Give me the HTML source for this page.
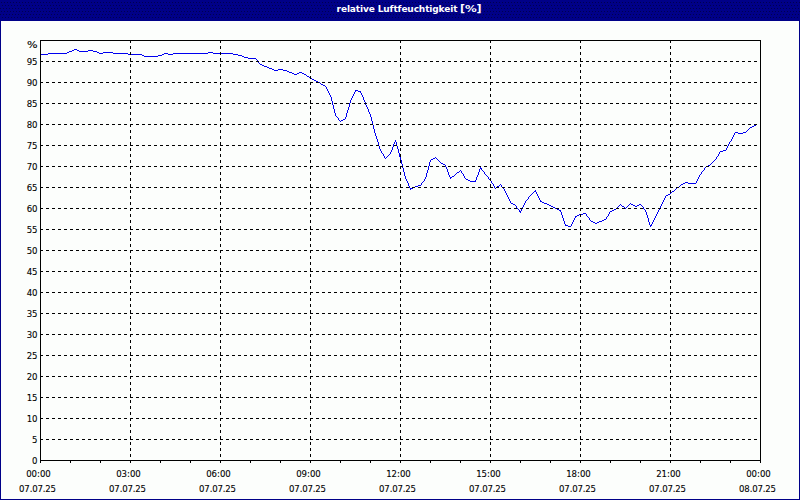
<!DOCTYPE html>
<html><head><meta charset="utf-8"><title>relative Luftfeuchtigkeit</title>
<style>
html,body{margin:0;padding:0;}
body{width:800px;height:500px;overflow:hidden;background:#000088;position:relative;}
#panel{position:absolute;left:1px;top:21px;width:798px;height:478px;background:#fcfefc;}
#title{position:absolute;left:0;top:0;width:800px;height:21px;color:#fff;font:bold 9px "DejaVu Sans","Liberation Sans",sans-serif;}
#title span{position:absolute;left:336.6px;top:4px;white-space:nowrap;}
#t1{letter-spacing:-0.12px;}
#title #t2{left:460px;top:2px;font-size:11px;font-weight:bold;}
#title #t4{left:476.5px;top:2px;font-size:11px;font-weight:bold;}
#title #t3{left:465px;top:4px;transform:scaleX(1.3);transform-origin:0 0;}
svg{position:absolute;left:0;top:0;}
.lab{font-family:"DejaVu Sans Condensed","Liberation Sans",sans-serif;font-size:9.5px;fill:#000;stroke:#000;stroke-width:0.1px;}
</style></head>
<body>
<div id="panel"></div>
<svg width="800" height="500" viewBox="0 0 800 500">
<g shape-rendering="crispEdges" fill="none" stroke="#000050" stroke-dasharray="1 2">
<path d="M1 2.5H800"/><path d="M2 5.5H800"/><path d="M0 8.5H800"/><path d="M1 11.5H800"/><path d="M0 14.5H800"/><path d="M2 17.5H800"/>
</g>
<g shape-rendering="crispEdges" fill="none">
<path d="M40 54h1v1h-1zM41 54h1v1h-1zM42 54h1v1h-1zM43 54h1v1h-1zM44 54h1v1h-1zM45 54h1v1h-1zM46 54h1v1h-1zM47 54h1v1h-1zM48 53h1v1h-1zM49 53h1v1h-1zM50 53h1v1h-1zM51 53h1v1h-1zM52 53h1v1h-1zM53 53h1v1h-1zM54 53h1v1h-1zM55 53h1v1h-1zM56 53h1v1h-1zM57 53h1v1h-1zM58 53h1v1h-1zM59 53h1v1h-1zM60 53h1v1h-1zM61 53h1v1h-1zM62 53h1v1h-1zM63 53h1v1h-1zM64 53h1v1h-1zM65 53h1v1h-1zM66 53h1v1h-1zM67 52h1v1h-1zM68 52h1v1h-1zM69 51h1v1h-1zM70 51h1v1h-1zM71 51h1v1h-1zM72 50h1v1h-1zM73 50h1v1h-1zM74 49h1v1h-1zM75 49h1v1h-1zM76 49h1v1h-1zM77 50h1v1h-1zM78 50h1v1h-1zM79 51h1v1h-1zM80 51h1v1h-1zM81 51h1v1h-1zM82 51h1v1h-1zM83 51h1v1h-1zM84 51h1v1h-1zM85 51h1v1h-1zM86 51h1v1h-1zM87 51h1v1h-1zM88 50h1v1h-1zM89 50h1v1h-1zM90 50h1v1h-1zM91 50h1v1h-1zM92 50h1v1h-1zM93 51h1v1h-1zM94 51h1v1h-1zM95 51h1v1h-1zM96 51h1v1h-1zM97 52h1v1h-1zM98 52h1v1h-1zM99 53h1v1h-1zM100 53h1v1h-1zM101 53h1v1h-1zM102 53h1v1h-1zM103 52h1v1h-1zM104 52h1v1h-1zM105 52h1v1h-1zM106 52h1v1h-1zM107 52h1v1h-1zM108 52h1v1h-1zM109 52h1v1h-1zM110 52h1v1h-1zM111 52h1v1h-1zM112 52h1v1h-1zM113 53h1v1h-1zM114 53h1v1h-1zM115 53h1v1h-1zM116 53h1v1h-1zM117 53h1v1h-1zM118 53h1v1h-1zM119 53h1v1h-1zM120 53h1v1h-1zM121 53h1v1h-1zM122 53h1v1h-1zM123 53h1v1h-1zM124 53h1v1h-1zM125 53h1v1h-1zM126 53h1v1h-1zM127 53h1v1h-1zM128 54h1v1h-1zM129 54h1v1h-1zM130 54h1v1h-1zM131 54h1v1h-1zM132 54h1v1h-1zM133 54h1v1h-1zM134 54h1v1h-1zM135 54h1v1h-1zM136 54h1v1h-1zM137 54h1v1h-1zM138 54h1v1h-1zM139 54h1v1h-1zM140 54h1v1h-1zM141 54h1v1h-1zM142 55h1v1h-1zM143 55h1v1h-1zM144 56h1v1h-1zM145 56h1v1h-1zM146 56h1v1h-1zM147 56h1v1h-1zM148 56h1v1h-1zM149 56h1v1h-1zM150 56h1v1h-1zM151 56h1v1h-1zM152 56h1v1h-1zM153 56h1v1h-1zM154 56h1v1h-1zM155 56h1v1h-1zM156 56h1v1h-1zM157 56h1v1h-1zM158 55h1v1h-1zM159 55h1v1h-1zM160 55h1v1h-1zM161 55h1v1h-1zM162 54h1v1h-1zM163 54h1v1h-1zM164 53h1v1h-1zM165 53h1v1h-1zM166 53h1v1h-1zM167 53h1v1h-1zM168 54h1v1h-1zM169 54h1v1h-1zM170 54h1v1h-1zM171 54h1v1h-1zM172 54h1v1h-1zM173 53h1v1h-1zM174 53h1v1h-1zM175 53h1v1h-1zM176 53h1v1h-1zM177 53h1v1h-1zM178 53h1v1h-1zM179 53h1v1h-1zM180 53h1v1h-1zM181 53h1v1h-1zM182 53h1v1h-1zM183 53h1v1h-1zM184 53h1v1h-1zM185 53h1v1h-1zM186 53h1v1h-1zM187 53h1v1h-1zM188 53h1v1h-1zM189 53h1v1h-1zM190 53h1v1h-1zM191 53h1v1h-1zM192 53h1v1h-1zM193 53h1v1h-1zM194 53h1v1h-1zM195 53h1v1h-1zM196 53h1v1h-1zM197 53h1v1h-1zM198 53h1v1h-1zM199 53h1v1h-1zM200 53h1v1h-1zM201 53h1v1h-1zM202 53h1v1h-1zM203 53h1v1h-1zM204 53h1v1h-1zM205 53h1v1h-1zM206 53h1v1h-1zM207 53h1v1h-1zM208 52h1v1h-1zM209 52h1v1h-1zM210 52h1v1h-1zM211 52h1v1h-1zM212 52h1v1h-1zM213 53h1v1h-1zM214 53h1v1h-1zM215 53h1v1h-1zM216 53h1v1h-1zM217 53h1v1h-1zM218 53h1v1h-1zM219 53h1v1h-1zM220 53h1v1h-1zM221 53h1v1h-1zM222 53h1v1h-1zM223 53h1v1h-1zM224 53h1v1h-1zM225 53h1v1h-1zM226 53h1v1h-1zM227 53h1v1h-1zM228 53h1v1h-1zM229 53h1v1h-1zM230 53h1v1h-1zM231 53h1v1h-1zM232 53h1v1h-1zM233 54h1v1h-1zM234 54h1v1h-1zM235 54h1v1h-1zM236 54h1v1h-1zM237 54h1v1h-1zM238 55h1v1h-1zM239 55h1v1h-1zM240 55h1v1h-1zM241 55h1v1h-1zM242 56h1v1h-1zM243 56h1v1h-1zM244 57h1v1h-1zM245 57h1v1h-1zM246 57h1v1h-1zM247 57h1v1h-1zM248 58h1v1h-1zM249 58h1v1h-1zM250 58h1v1h-1zM251 58h1v1h-1zM252 58h1v1h-1zM253 58h1v1h-1zM254 58h1v1h-1zM255 58h1v1h-1zM256 59h1v1h-1zM257 60h1v1h-1zM258 61h1v2h-1zM259 63h1v1h-1zM260 64h1v1h-1zM261 64h1v1h-1zM262 65h1v1h-1zM263 65h1v1h-1zM264 66h1v1h-1zM265 66h1v1h-1zM266 66h1v1h-1zM267 67h1v1h-1zM268 67h1v1h-1zM269 68h1v1h-1zM270 68h1v1h-1zM271 68h1v1h-1zM272 69h1v1h-1zM273 69h1v1h-1zM274 70h1v1h-1zM275 70h1v1h-1zM276 70h1v1h-1zM277 70h1v1h-1zM278 69h1v1h-1zM279 69h1v1h-1zM280 69h1v1h-1zM281 69h1v1h-1zM282 69h1v1h-1zM283 70h1v1h-1zM284 70h1v1h-1zM285 70h1v1h-1zM286 70h1v1h-1zM287 71h1v1h-1zM288 71h1v1h-1zM289 72h1v1h-1zM290 72h1v1h-1zM291 72h1v1h-1zM292 73h1v1h-1zM293 73h1v1h-1zM294 74h1v1h-1zM295 74h1v1h-1zM296 74h1v1h-1zM297 73h1v1h-1zM298 73h1v1h-1zM299 72h1v1h-1zM300 72h1v1h-1zM301 72h1v1h-1zM302 73h1v1h-1zM303 73h1v1h-1zM304 74h1v1h-1zM305 74h1v1h-1zM306 75h1v1h-1zM307 76h1v1h-1zM308 76h1v1h-1zM309 77h1v1h-1zM310 78h1v1h-1zM311 78h1v1h-1zM312 79h1v1h-1zM313 79h1v1h-1zM314 80h1v1h-1zM315 80h1v1h-1zM316 81h1v1h-1zM317 81h1v1h-1zM318 82h1v1h-1zM319 82h1v1h-1zM320 83h1v1h-1zM321 84h1v1h-1zM322 84h1v1h-1zM323 85h1v1h-1zM324 85h1v1h-1zM325 86h1v1h-1zM326 87h1v2h-1zM327 89h1v2h-1zM328 91h1v2h-1zM329 93h1v2h-1zM330 95h1v2h-1zM331 97h1v4h-1zM332 101h1v4h-1zM333 105h1v4h-1zM334 109h1v4h-1zM335 113h1v3h-1zM336 116h1v1h-1zM337 117h1v1h-1zM338 118h1v2h-1zM339 120h1v1h-1zM340 121h1v1h-1zM341 120h1v1h-1zM342 120h1v1h-1zM343 119h1v1h-1zM344 119h1v1h-1zM345 117h1v2h-1zM346 113h1v4h-1zM347 110h1v3h-1zM348 107h1v3h-1zM349 103h1v4h-1zM350 100h1v3h-1zM351 98h1v2h-1zM352 96h1v2h-1zM353 94h1v2h-1zM354 92h1v2h-1zM355 90h1v2h-1zM356 90h1v1h-1zM357 90h1v1h-1zM358 91h1v1h-1zM359 91h1v1h-1zM360 91h1v2h-1zM361 93h1v2h-1zM362 95h1v2h-1zM363 97h1v3h-1zM364 100h1v2h-1zM365 102h1v3h-1zM366 105h1v2h-1zM367 107h1v2h-1zM368 109h1v3h-1zM369 112h1v2h-1zM370 114h1v3h-1zM371 117h1v4h-1zM372 121h1v4h-1zM373 125h1v4h-1zM374 129h1v4h-1zM375 133h1v3h-1zM376 136h1v3h-1zM377 139h1v3h-1zM378 142h1v4h-1zM379 146h1v3h-1zM380 149h1v2h-1zM381 151h1v2h-1zM382 153h1v1h-1zM383 154h1v2h-1zM384 156h1v2h-1zM385 158h1v1h-1zM386 157h1v1h-1zM387 156h1v1h-1zM388 155h1v1h-1zM389 154h1v1h-1zM390 152h1v2h-1zM391 150h1v2h-1zM392 147h1v3h-1zM393 144h1v3h-1zM394 142h1v2h-1zM395 140h1v2h-1zM396 142h1v4h-1zM397 146h1v3h-1zM398 149h1v4h-1zM399 153h1v4h-1zM400 157h1v3h-1zM401 160h1v4h-1zM402 164h1v4h-1zM403 168h1v4h-1zM404 172h1v4h-1zM405 176h1v3h-1zM406 179h1v2h-1zM407 181h1v2h-1zM408 183h1v3h-1zM409 186h1v2h-1zM410 188h1v2h-1zM411 188h1v1h-1zM412 188h1v1h-1zM413 187h1v1h-1zM414 187h1v1h-1zM415 186h1v1h-1zM416 186h1v1h-1zM417 186h1v1h-1zM418 185h1v1h-1zM419 185h1v1h-1zM420 185h1v1h-1zM421 183h1v2h-1zM422 182h1v1h-1zM423 181h1v1h-1zM424 179h1v2h-1zM425 177h1v2h-1zM426 173h1v4h-1zM427 170h1v3h-1zM428 166h1v4h-1zM429 162h1v4h-1zM430 160h1v2h-1zM431 159h1v1h-1zM432 159h1v1h-1zM433 158h1v1h-1zM434 158h1v1h-1zM435 157h1v1h-1zM436 158h1v1h-1zM437 159h1v1h-1zM438 160h1v1h-1zM439 161h1v1h-1zM440 162h1v1h-1zM441 163h1v1h-1zM442 163h1v1h-1zM443 164h1v1h-1zM444 164h1v1h-1zM445 165h1v2h-1zM446 167h1v2h-1zM447 169h1v3h-1zM448 172h1v3h-1zM449 175h1v2h-1zM450 177h1v2h-1zM451 177h1v1h-1zM452 176h1v1h-1zM453 176h1v1h-1zM454 175h1v1h-1zM455 174h1v1h-1zM456 173h1v1h-1zM457 172h1v1h-1zM458 172h1v1h-1zM459 171h1v1h-1zM460 170h1v1h-1zM461 171h1v2h-1zM462 173h1v1h-1zM463 174h1v2h-1zM464 176h1v2h-1zM465 178h1v1h-1zM466 179h1v1h-1zM467 179h1v1h-1zM468 180h1v1h-1zM469 180h1v1h-1zM470 181h1v1h-1zM471 181h1v1h-1zM472 181h1v1h-1zM473 181h1v1h-1zM474 181h1v1h-1zM475 180h1v2h-1zM476 177h1v3h-1zM477 175h1v2h-1zM478 172h1v3h-1zM479 169h1v3h-1zM480 167h1v2h-1zM481 168h1v2h-1zM482 170h1v1h-1zM483 171h1v1h-1zM484 172h1v2h-1zM485 174h1v1h-1zM486 175h1v1h-1zM487 176h1v1h-1zM488 177h1v2h-1zM489 179h1v1h-1zM490 180h1v1h-1zM491 181h1v2h-1zM492 183h1v1h-1zM493 184h1v2h-1zM494 186h1v2h-1zM495 188h1v1h-1zM496 187h1v1h-1zM497 186h1v1h-1zM498 186h1v1h-1zM499 185h1v1h-1zM500 184h1v1h-1zM501 185h1v2h-1zM502 187h1v1h-1zM503 188h1v1h-1zM504 189h1v2h-1zM505 191h1v2h-1zM506 193h1v2h-1zM507 195h1v2h-1zM508 197h1v2h-1zM509 199h1v2h-1zM510 201h1v2h-1zM511 203h1v1h-1zM512 203h1v1h-1zM513 204h1v1h-1zM514 204h1v1h-1zM515 205h1v1h-1zM516 206h1v2h-1zM517 208h1v1h-1zM518 209h1v1h-1zM519 210h1v2h-1zM520 211h1v2h-1zM521 209h1v2h-1zM522 207h1v2h-1zM523 205h1v2h-1zM524 203h1v2h-1zM525 201h1v2h-1zM526 200h1v1h-1zM527 199h1v1h-1zM528 197h1v2h-1zM529 196h1v1h-1zM530 195h1v1h-1zM531 194h1v1h-1zM532 193h1v1h-1zM533 192h1v1h-1zM534 191h1v1h-1zM535 190h1v2h-1zM536 192h1v2h-1zM537 194h1v2h-1zM538 196h1v2h-1zM539 198h1v2h-1zM540 200h1v2h-1zM541 201h1v1h-1zM542 202h1v1h-1zM543 202h1v1h-1zM544 203h1v1h-1zM545 203h1v1h-1zM546 203h1v1h-1zM547 204h1v1h-1zM548 204h1v1h-1zM549 205h1v1h-1zM550 205h1v1h-1zM551 206h1v1h-1zM552 206h1v1h-1zM553 207h1v1h-1zM554 207h1v1h-1zM555 208h1v1h-1zM556 208h1v1h-1zM557 209h1v1h-1zM558 209h1v1h-1zM559 210h1v1h-1zM560 210h1v2h-1zM561 212h1v3h-1zM562 215h1v3h-1zM563 218h1v3h-1zM564 221h1v3h-1zM565 224h1v2h-1zM566 225h1v1h-1zM567 225h1v1h-1zM568 226h1v1h-1zM569 226h1v1h-1zM570 226h1v1h-1zM571 224h1v2h-1zM572 222h1v2h-1zM573 220h1v2h-1zM574 218h1v2h-1zM575 216h1v2h-1zM576 216h1v1h-1zM577 215h1v1h-1zM578 215h1v1h-1zM579 214h1v1h-1zM580 214h1v1h-1zM581 214h1v1h-1zM582 214h1v1h-1zM583 213h1v1h-1zM584 213h1v1h-1zM585 213h1v1h-1zM586 214h1v2h-1zM587 216h1v1h-1zM588 217h1v1h-1zM589 218h1v2h-1zM590 220h1v1h-1zM591 221h1v1h-1zM592 221h1v1h-1zM593 222h1v1h-1zM594 222h1v1h-1zM595 223h1v1h-1zM596 223h1v1h-1zM597 222h1v1h-1zM598 222h1v1h-1zM599 221h1v1h-1zM600 221h1v1h-1zM601 221h1v1h-1zM602 220h1v1h-1zM603 220h1v1h-1zM604 219h1v1h-1zM605 219h1v1h-1zM606 217h1v2h-1zM607 216h1v1h-1zM608 214h1v2h-1zM609 212h1v2h-1zM610 211h1v1h-1zM611 211h1v1h-1zM612 210h1v1h-1zM613 210h1v1h-1zM614 209h1v1h-1zM615 209h1v1h-1zM616 208h1v1h-1zM617 207h1v1h-1zM618 206h1v1h-1zM619 205h1v1h-1zM620 204h1v1h-1zM621 205h1v1h-1zM622 206h1v1h-1zM623 206h1v1h-1zM624 207h1v1h-1zM625 208h1v1h-1zM626 207h1v1h-1zM627 206h1v1h-1zM628 205h1v1h-1zM629 204h1v1h-1zM630 203h1v1h-1zM631 204h1v1h-1zM632 204h1v1h-1zM633 205h1v1h-1zM634 205h1v1h-1zM635 206h1v1h-1zM636 206h1v1h-1zM637 205h1v1h-1zM638 205h1v1h-1zM639 204h1v1h-1zM640 204h1v1h-1zM641 205h1v1h-1zM642 206h1v1h-1zM643 207h1v2h-1zM644 209h1v1h-1zM645 210h1v2h-1zM646 212h1v3h-1zM647 215h1v3h-1zM648 218h1v4h-1zM649 222h1v3h-1zM650 225h1v2h-1zM651 224h1v2h-1zM652 222h1v2h-1zM653 220h1v2h-1zM654 218h1v2h-1zM655 216h1v2h-1zM656 214h1v2h-1zM657 212h1v2h-1zM658 210h1v2h-1zM659 208h1v2h-1zM660 206h1v2h-1zM661 204h1v2h-1zM662 202h1v2h-1zM663 200h1v2h-1zM664 198h1v2h-1zM665 196h1v2h-1zM666 195h1v1h-1zM667 195h1v1h-1zM668 194h1v1h-1zM669 194h1v1h-1zM670 193h1v1h-1zM671 192h1v1h-1zM672 191h1v1h-1zM673 191h1v1h-1zM674 190h1v1h-1zM675 189h1v1h-1zM676 188h1v1h-1zM677 187h1v1h-1zM678 187h1v1h-1zM679 186h1v1h-1zM680 185h1v1h-1zM681 184h1v1h-1zM682 184h1v1h-1zM683 183h1v1h-1zM684 183h1v1h-1zM685 182h1v1h-1zM686 182h1v1h-1zM687 182h1v1h-1zM688 183h1v1h-1zM689 183h1v1h-1zM690 183h1v1h-1zM691 183h1v1h-1zM692 183h1v1h-1zM693 183h1v1h-1zM694 183h1v1h-1zM695 183h1v1h-1zM696 181h1v2h-1zM697 179h1v2h-1zM698 177h1v2h-1zM699 175h1v2h-1zM700 174h1v1h-1zM701 172h1v2h-1zM702 171h1v1h-1zM703 170h1v1h-1zM704 168h1v2h-1zM705 167h1v1h-1zM706 166h1v1h-1zM707 166h1v1h-1zM708 165h1v1h-1zM709 165h1v1h-1zM710 164h1v1h-1zM711 163h1v1h-1zM712 162h1v1h-1zM713 161h1v1h-1zM714 160h1v1h-1zM715 159h1v1h-1zM716 157h1v2h-1zM717 156h1v1h-1zM718 154h1v2h-1zM719 152h1v2h-1zM720 151h1v1h-1zM721 151h1v1h-1zM722 151h1v1h-1zM723 150h1v1h-1zM724 150h1v1h-1zM725 150h1v1h-1zM726 148h1v2h-1zM727 146h1v2h-1zM728 144h1v2h-1zM729 142h1v2h-1zM730 141h1v1h-1zM731 139h1v2h-1zM732 137h1v2h-1zM733 135h1v2h-1zM734 133h1v2h-1zM735 132h1v1h-1zM736 132h1v1h-1zM737 132h1v1h-1zM738 133h1v1h-1zM739 133h1v1h-1zM740 133h1v1h-1zM741 133h1v1h-1zM742 133h1v1h-1zM743 132h1v1h-1zM744 132h1v1h-1zM745 132h1v1h-1zM746 131h1v1h-1zM747 130h1v1h-1zM748 129h1v1h-1zM749 128h1v1h-1zM750 127h1v1h-1zM751 127h1v1h-1zM752 126h1v1h-1zM753 126h1v1h-1zM754 125h1v1h-1zM755 125h1v1h-1z" fill="#0000f0" stroke="none"/>
<path d="M40 439.5H760 M40 418.5H760 M40 397.5H760 M40 376.5H760 M40 355.5H760 M40 334.5H760 M40 313.5H760 M40 292.5H760 M40 271.5H760 M40 250.5H760 M40 229.5H760 M40 208.5H760 M40 187.5H760 M40 166.5H760 M40 145.5H760 M40 124.5H760 M40 103.5H760 M40 82.5H760 M40 61.5H760" stroke="#000" stroke-width="1" stroke-dasharray="3 3"/>
<path d="M130.5 40V460 M220.5 40V460 M310.5 40V460 M400.5 40V460 M490.5 40V460 M580.5 40V460 M670.5 40V460" stroke="#000" stroke-width="1" stroke-dasharray="3 3"/>
<rect x="40.5" y="40.5" width="720" height="420" stroke="#000" stroke-width="1"/>
<path d="M40.5 460V463 M70.5 460V463 M100.5 460V463 M130.5 460V463 M160.5 460V463 M190.5 460V463 M220.5 460V463 M250.5 460V463 M280.5 460V463 M310.5 460V463 M340.5 460V463 M370.5 460V463 M400.5 460V463 M430.5 460V463 M460.5 460V463 M490.5 460V463 M520.5 460V463 M550.5 460V463 M580.5 460V463 M610.5 460V463 M640.5 460V463 M670.5 460V463 M700.5 460V463 M730.5 460V463 M760.5 460V463" stroke="#000" stroke-width="1"/>
</g>
<g class="lab" text-anchor="end">
<text transform="translate(37.5,464) scale(1.0,1)">0</text>
<text transform="translate(37.5,443) scale(1.0,1)">5</text>
<text transform="translate(37.5,422) scale(1.0,1)">10</text>
<text transform="translate(37.5,401) scale(1.0,1)">15</text>
<text transform="translate(37.5,380) scale(1.0,1)">20</text>
<text transform="translate(37.5,359) scale(1.0,1)">25</text>
<text transform="translate(37.5,338) scale(1.0,1)">30</text>
<text transform="translate(37.5,317) scale(1.0,1)">35</text>
<text transform="translate(37.5,296) scale(1.0,1)">40</text>
<text transform="translate(37.5,275) scale(1.0,1)">45</text>
<text transform="translate(37.5,254) scale(1.0,1)">50</text>
<text transform="translate(37.5,233) scale(1.0,1)">55</text>
<text transform="translate(37.5,212) scale(1.0,1)">60</text>
<text transform="translate(37.5,191) scale(1.0,1)">65</text>
<text transform="translate(37.5,170) scale(1.0,1)">70</text>
<text transform="translate(37.5,149) scale(1.0,1)">75</text>
<text transform="translate(37.5,128) scale(1.0,1)">80</text>
<text transform="translate(37.5,107) scale(1.0,1)">85</text>
<text transform="translate(37.5,86) scale(1.0,1)">90</text>
<text transform="translate(37.5,65) scale(1.0,1)">95</text>
<text transform="translate(37.6,48) scale(1.3,1)">%</text>
</g>
<g class="lab" text-anchor="middle">
<text x="38.5" y="477">00:00</text>
<text x="37.5" y="492" letter-spacing="-0.15">07.07.25</text>
<text x="128.5" y="477">03:00</text>
<text x="127.5" y="492" letter-spacing="-0.15">07.07.25</text>
<text x="218.5" y="477">06:00</text>
<text x="217.5" y="492" letter-spacing="-0.15">07.07.25</text>
<text x="308.5" y="477">09:00</text>
<text x="307.5" y="492" letter-spacing="-0.15">07.07.25</text>
<text x="398.5" y="477">12:00</text>
<text x="397.5" y="492" letter-spacing="-0.15">07.07.25</text>
<text x="488.5" y="477">15:00</text>
<text x="487.5" y="492" letter-spacing="-0.15">07.07.25</text>
<text x="578.5" y="477">18:00</text>
<text x="577.5" y="492" letter-spacing="-0.15">07.07.25</text>
<text x="668.5" y="477">21:00</text>
<text x="667.5" y="492" letter-spacing="-0.15">07.07.25</text>
<text x="758.5" y="477">00:00</text>
<text x="757.5" y="492" letter-spacing="-0.15">08.07.25</text>
</g>
</svg>
<div id="title"><span id="t1">relative Luftfeuchtigkeit </span><span id="t2">[</span><span id="t3">%</span><span id="t4">]</span></div>
</body></html>
